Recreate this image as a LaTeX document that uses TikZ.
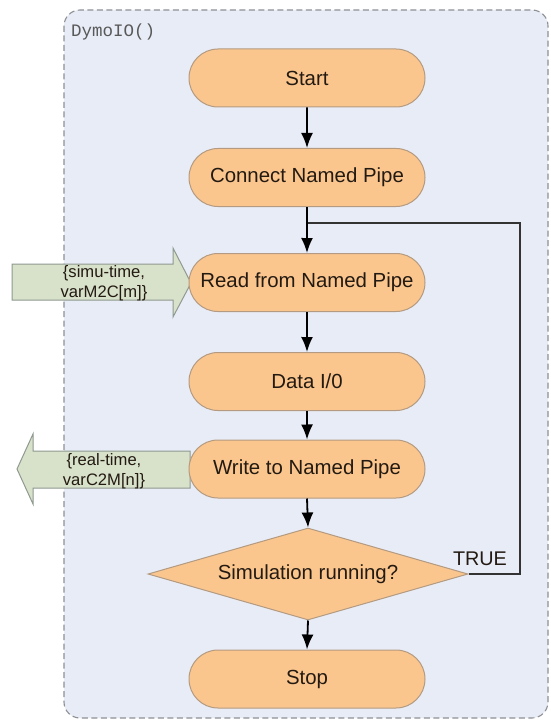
\documentclass[tikz,border=0pt]{standalone}
\usepackage{fontspec}
\setmainfont{Liberation Sans}
\newfontfamily\codefont{Liberation Mono}
\usetikzlibrary{shapes.misc,shapes.geometric,arrows.meta}
\definecolor{bgblue}{HTML}{E8ECF7}
\definecolor{frame}{HTML}{8E9096}
\definecolor{peach}{HTML}{FBC68E}
\definecolor{peachline}{HTML}{B39A80}
\definecolor{greenfill}{HTML}{D8E1CA}
\definecolor{greenline}{HTML}{8F9A90}
\definecolor{txt}{HTML}{231A12}
\tikzset{
  procbox/.style={rounded rectangle, draw=peachline, fill=peach, line width=1pt,
    minimum width=236pt, minimum height=58pt, inner sep=0pt,
    font=\fontsize{20.4}{24}\selectfont, text=txt},
  decbox/.style={diamond, draw=peachline, fill=peach, line width=1pt,
    minimum width=320pt, minimum height=92pt, inner sep=0pt, aspect=3.48,
    font=\fontsize{20.4}{24}\selectfont, text=txt},
  flow/.style={line width=1.8pt, -{Latex[length=15pt,width=12pt]}, black},
  loopline/.style={line width=1.5pt, draw={black!80}},
  bigarrow/.style={draw=greenline, fill=greenfill, line width=1pt},
  arrowtext/.style={align=center, font=\fontsize{16.6}{19.5}\selectfont, text=txt, inner sep=0pt},
}
\begin{document}
\begin{tikzpicture}[x=1pt,y=-1pt]
\useasboundingbox (0,0) rectangle (550,722);
\fill[white] (0,0) rectangle (550,722);
% container
\draw[frame, fill=bgblue, line width=1.1pt, dash pattern=on 6pt off 3.5pt, rounded corners=16pt]
  (64,10) rectangle (548,718);
\node[anchor=west, inner sep=0pt, text=black!65, font=\codefont\fontsize{17.5}{20}\selectfont] (title) at (71,32) {DymoIO()};

% big arrows
\draw[bigarrow] (12,264) -- (173,264) -- (173,248) -- (191,283) -- (173,317) -- (173,300) -- (12,300) -- cycle;
\node[arrowtext] (inlabel) at (104,283) {\{simu-time,\\varM2C[m]\}};
\draw[bigarrow] (190,451) -- (33,451) -- (33,434) -- (17,469) -- (33,504) -- (33,488) -- (190,488) -- cycle;
\node[arrowtext] (outlabel) at (104,471) {\{real-time,\\varC2M[n]\}};

% nodes
\node[procbox] (start) at (307,78) {Start};
\node[procbox] (connect) at (307,177.5) {Connect Named Pipe};
\node[procbox] (read) at (307,282.5) {Read from Named Pipe};
\node[procbox] (data) at (307,381.5) {Data I/0};
\node[procbox] (write) at (307,469) {Write to Named Pipe};
\node[decbox] (dec) at (308,574) {Simulation running?};
\node[procbox] (stop) at (307,679) {Stop};

% connectors
\coordinate (lr) at (520,574);
\coordinate (ur) at (520,223);
\coordinate (join) at (307,223);
\draw[loopline] (dec.east) -- (lr) -- (ur) -- (join);
\draw[flow] (start) -- (connect);
\draw[flow] (connect) -- (read);
\draw[flow] (read) -- (data);
\draw[flow] (data) -- (write);
\draw[flow] (write.south) -- (dec.north);
\draw[flow] (dec.south) -- (stop.north);
\node[font=\fontsize{19.8}{22}\selectfont, text=txt, inner sep=0pt] (true) at (480,559) {TRUE};
\end{tikzpicture}
\end{document}
